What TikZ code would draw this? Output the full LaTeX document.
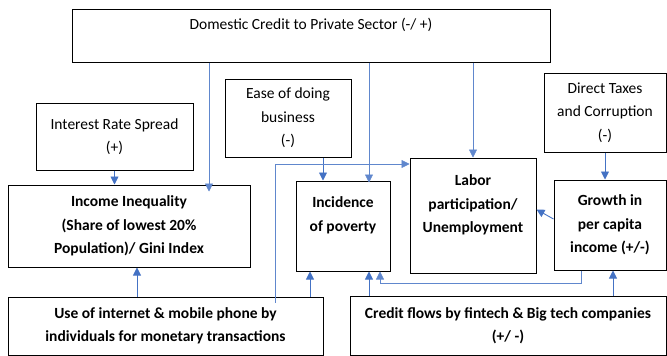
\documentclass[tikz,border=0pt]{standalone}
\usepackage{fontspec}
\setmainfont{Carlito}
\usepackage{tikz}
\usetikzlibrary{arrows.meta, positioning, calc}
\definecolor{LinkBlue}{RGB}{68,114,196}
\tikzset{
  factor/.style={
    rectangle, draw=black, line width=1pt, fill=white,
    inner sep=0pt, align=center, text=black,
    font=\fontsize{15.5}{23.5}\selectfont
  },
  outcome/.style={factor, font=\fontsize{15.5}{23.5}\selectfont\bfseries},
  arr/.style={-{Triangle[length=8pt,width=8pt]}, draw=LinkBlue, line width=0.9pt},
  larr/.style={-{Triangle[length=8pt,width=8pt]}, draw=LinkBlue!85, line width=0.6pt}
}

\begin{document}
\begin{tikzpicture}[x=1pt, y=-1pt]
  \useasboundingbox (0,0) rectangle (667,356);

  % Drivers
  \node[factor, minimum width=478, minimum height=53] (dom) at (311,35.5)
       {Domestic Credit to Private Sector (-/ +)\\ \mbox{}};
  \node[factor, minimum width=157, minimum height=67] (rate) at (114.5,136.5)
       {Interest Rate Spread\\(+)};
  \node[factor, minimum width=126, minimum height=78] (ease) at (288,118)
       {Ease of doing\\business\\(-)};
  \node[factor, minimum width=122, minimum height=79] (tax) at (605,112.5)
       {Direct Taxes\\and Corruption\\(-)};

  % Outcomes
  \node[outcome, minimum width=242, minimum height=82] (ineq) at (129,226)
       {Income Inequality\\(Share of lowest 20\%\\Population)/ Gini Index};
  \node[outcome, minimum width=94, minimum height=90] (pov) at (343,226)
       {Incidence\\of poverty\\ \mbox{}};
  \node[outcome, minimum width=126, minimum height=115] (lab) at (473,215.5)
       {Labor\\participation/\\Unemployment\\ \mbox{}};
  \node[outcome, minimum width=112, minimum height=90] (gro) at (610,225)
       {Growth in\\per capita\\income (+/-)};

  % Digital finance
  \node[outcome, minimum width=315, minimum height=58] (net) at (165.5,326)
       {Use of internet \& mobile phone by\\individuals for monetary transactions};
  \node[outcome, minimum width=316, minimum height=59] (fin) at (508,325.5)
       {Credit flows by fintech \& Big tech companies\\(+/ -)};

  % Links
  \draw[larr, shorten >=-7pt] ([xshift=-102]dom.south) -- ([xshift=80]ineq.north);
  \draw[larr, shorten >=-2pt] ([xshift=58]dom.south) -- ([xshift=26]pov.north);
  \draw[larr] ([xshift=162]dom.south) -- (lab.north);
  \draw[arr] (rate.south) -- (rate.south |- ineq.north);
  \draw[arr] ([xshift=35]ease.south) -- ([xshift=-20]pov.north);
  \draw[arr] (tax.south) -- (tax.south |- gro.north);
  \draw[arr] ([yshift=6]gro.west) -- ([yshift=6]lab.east);
  \draw[arr] ([xshift=-28.5]net.north) -- ([xshift=8]ineq.south);
  \draw[arr] ([xshift=144.5]net.north) -- ([xshift=-33]pov.south);
  \draw[larr] ([xshift=109.5,yshift=-6]net.north) |- ([yshift=51.5]lab.west);
  \draw[arr] ([xshift=-139]fin.north) -- ([xshift=26]pov.south);
  \draw[arr] ([xshift=105]fin.north) -- ([xshift=3]gro.south);
  \draw[larr] ([xshift=-29]gro.south) -- ++(0,13) -| ([xshift=37]pov.south);
\end{tikzpicture}
\end{document}
